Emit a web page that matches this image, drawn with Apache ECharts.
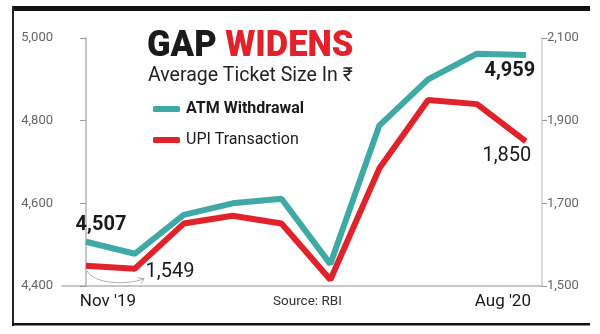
<!DOCTYPE html>
<html><head><meta charset="utf-8">
<script src="https://cdn.jsdelivr.net/npm/echarts@6/dist/echarts.min.js"></script>
<style>html,body{margin:0;padding:0;background:#fff}#c{width:600px;height:334px}</style>
</head><body><div id="c"></div>
<script>
const months = ["Nov '19","Dec '19","Jan '20","Feb '20","Mar '20","Apr '20","May '20","Jun '20","Jul '20","Aug '20"];
const atmValues = [4507, 4478, 4572, 4600, 4611, 4453, 4788, 4900, 4962, 4959];
const upiValues = [1549, 1542, 1651, 1670, 1651, 1515, 1784, 1950, 1940, 1850];
const leftRange = [4400, 5000];
const rightRange = [1500, 2100];
const tickStep = 200;
const seriesNames = ["ATM Withdrawal", "UPI Transaction"];
const titleParts = ["GAP ", "WIDENS"];
const subtitle = "Average Ticket Size In \u20B9";
const sourceText = "Source: RBI";

const TEAL = '#3fa9a5', RED = '#e2222b';
const fmt = v => Number(v).toLocaleString('en-US');
const last = months.length - 1;

function mk(vals, first, lastL) {
  return vals.map((v, i) => {
    let label = {show: false};
    if (i === 0) label = Object.assign({show: true, formatter: fmt(v)}, first);
    if (i === last) label = Object.assign({show: true, formatter: fmt(v)}, lastL);
    return {value: [i, v], label};
  });
}
const lblBase = {position: 'inside', align: 'center', verticalAlign: 'middle', color: '#1a1a1a', fontFamily: 'Roboto', fontSize: 20};

const chart = echarts.init(document.getElementById('c'), null, {renderer: 'canvas'});
chart.setOption({
  animation: false,
  grid: {left: 62, right: 58, top: 38, bottom: 48},
  legend: {
    orient: 'vertical', left: 148, top: 96, itemWidth: 27, itemHeight: 6, itemGap: 15,
    icon: 'roundRect',
    textStyle: {fontFamily: 'Roboto', fontSize: 16, color: '#1a1a1a', padding: [0,0,0,1]},
    data: [
      {name: seriesNames[0], textStyle: {fontWeight: 'bold'}},
      {name: seriesNames[1], textStyle: {fontWeight: 'normal'}}
    ]
  },
  xAxis: {
    type: 'value', min: -0.49, max: 9.33,
    splitLine: {show: false}, axisTick: {show: false},
    axisLine: {lineStyle: {color: '#b5b5b5', width: 1.5}},
    axisLabel: {
      customValues: [0, last], margin: 7,
      formatter: v => Math.round(v) === 0 ? '{l|' + months[0] + '}' : '{r|' + months[last] + '}',
      rich: {
        l: {fontFamily: 'Roboto', fontSize: 17, color: '#1a1a1a', padding: [0, 0, 0, 44]},
        r: {fontFamily: 'Roboto', fontSize: 17, color: '#1a1a1a', padding: [0, 46, 0, 0]}
      }
    }
  },
  yAxis: [
    {type: 'value', min: leftRange[0], max: leftRange[1], interval: tickStep, position: 'left',
     splitLine: {show: false},
     axisLine: {show: true, lineStyle: {color: '#b5b5b5', width: 1.5}},
     axisTick: {show: true, length: 6, lineStyle: {color: '#999'}},
     axisLabel: {formatter: fmt, margin: 9, fontFamily: 'Roboto', fontSize: 13, color: '#666'}},
    {type: 'value', min: rightRange[0], max: rightRange[1], interval: tickStep, position: 'right',
     splitLine: {show: false},
     axisLine: {show: true, lineStyle: {color: '#cfcfcf', width: 1.5}},
     axisTick: {show: true, length: 5, lineStyle: {color: '#999'}},
     axisLabel: {formatter: fmt, margin: 5, fontFamily: 'Roboto', fontSize: 13, color: '#666'}}
  ],
  series: [
    {name: seriesNames[0], type: 'line', yAxisIndex: 0, color: TEAL,
     showSymbol: true, symbol: 'circle', symbolSize: 0,
     lineStyle: {width: 6, color: TEAL},
     data: mk(atmValues,
       Object.assign({}, lblBase, {fontWeight: 'bold', offset: [15, -17]}),
       Object.assign({}, lblBase, {fontWeight: 'bold', offset: [-16, 16]}))},
    {name: seriesNames[1], type: 'line', yAxisIndex: 1, color: RED,
     showSymbol: true, symbol: 'circle', symbolSize: 0,
     lineStyle: {width: 6, color: RED},
     data: mk(upiValues,
       Object.assign({}, lblBase, {fontWeight: 'normal', offset: [84, 6]}),
       Object.assign({}, lblBase, {fontWeight: 'normal', offset: [-19, 15]}))}
  ]
});

// decorations; connector placed relative to the UPI start point
const pu = chart.convertToPixel({xAxisIndex: 0, yAxisIndex: 1}, [0, upiValues[0]]);
chart.setOption({graphic: [
  {type: 'rect', shape: {x: 13, y: 6, width: 577, height: 5}, style: {fill: '#111'}},
  {type: 'rect', shape: {x: 12, y: 6, width: 2, height: 320}, style: {fill: '#222'}},
  {type: 'rect', shape: {x: 12, y: 323, width: 578, height: 2.5}, style: {fill: '#111'}},
  {type: 'text', x: 147, y: 28, scaleX: 0.935, style: {
    text: '{a|' + titleParts[0] + '}{b|' + titleParts[1] + '}',
    rich: {
      a: {fontFamily: 'Roboto', fontWeight: 900, fontSize: 37, fill: '#1a1a1a'},
      b: {fontFamily: 'Roboto', fontWeight: 900, fontSize: 37, fill: RED}
    }}},
  {type: 'text', x: 148, y: 66, style: {text: subtitle, fontFamily: 'Roboto', fontSize: 19.5, fill: '#222'}},
  {type: 'text', x: 273, y: 295, style: {text: sourceText, fontFamily: 'Roboto', fontSize: 13.5, fill: '#333'}},
  {type: 'bezierCurve', shape: {x1: pu[0] + 1, y1: pu[1] + 5, cpx1: pu[0] + 8, cpy1: pu[1] + 18, cpx2: pu[0] + 40, cpy2: pu[1] + 20, x2: pu[0] + 58, y2: pu[1] + 13},
   style: {stroke: '#999', lineWidth: 0.8, fill: null}},
  {type: 'polyline', shape: {points: [[pu[0] + 52, pu[1] + 12], [pu[0] + 58, pu[1] + 13], [pu[0] + 55, pu[1] + 18]]},
   style: {stroke: '#999', lineWidth: 0.8, fill: null}}
]});
</script></body></html>
